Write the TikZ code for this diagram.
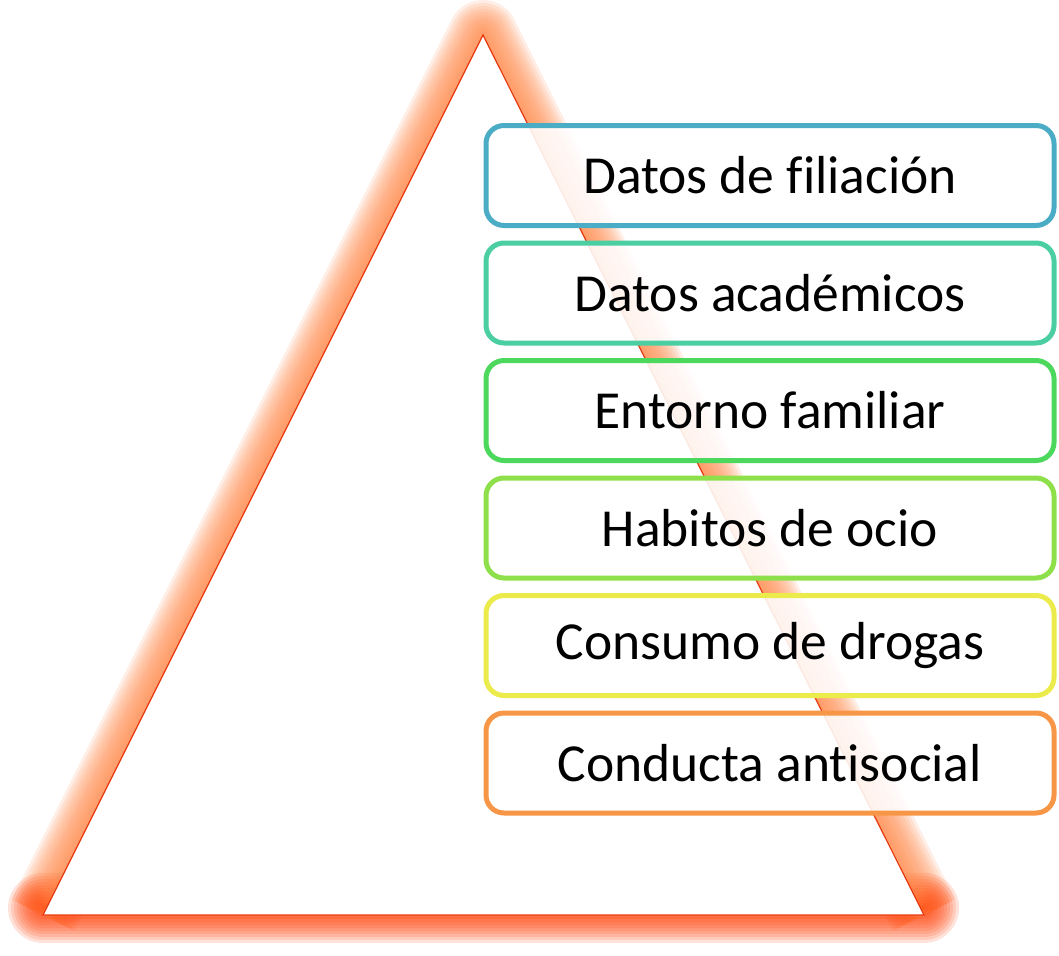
\documentclass[tikz,border=0pt]{standalone}
\usepackage{fontspec}
\setmainfont[Ligatures=NoCommon]{Carlito}
\usetikzlibrary{positioning}
\definecolor{glow}{HTML}{FF8A4C}
\definecolor{glowred}{HTML}{FF3A00}
\definecolor{edge}{HTML}{E83A10}
\definecolor{cfil}{HTML}{4BACC6}
\definecolor{caca}{HTML}{4BCFA2}
\definecolor{cfam}{HTML}{4BD85C}
\definecolor{cocio}{HTML}{8EE04B}
\definecolor{cdrog}{HTML}{EBEB4B}
\definecolor{canti}{HTML}{F79646}
\begin{document}
\begin{tikzpicture}[x=1pt,y=-1pt,node distance=12.5pt]
\tikzstyle{item}=[draw,line width=5pt,rounded corners=18pt,fill=white,fill opacity=0.88,text opacity=1,
  minimum width=568pt,minimum height=100pt,font=\fontsize{53.5}{62}\selectfont]
\useasboundingbox (0,0) rectangle (1059,955);
\coordinate (top) at (483,35);
\coordinate (bl) at (43,915);
\coordinate (br) at (924,915);
% glow round the pyramid
\foreach \w in {70,64,...,4} {
  \draw[glow,line width=\w pt,line join=round,opacity=0.14] (bl) -- (top) -- (br);
  \draw[glowred,line width=\w pt,line cap=round,opacity=0.14] ([yshift=7pt]bl) -- ([yshift=7pt]br);
}
\fill[white] (top) -- (bl) -- (br) -- cycle;
\draw[edge,line width=1.2pt,line join=miter] (top) -- (bl) -- (br) -- cycle;
% levels
\node[item,draw=cfil] (fil) at (770,175.5) {Datos de filiación};
\node[item,draw=caca,below=of fil] (aca) {Datos académicos};
\node[item,draw=cfam,below=of aca] (fam) {Entorno familiar};
\node[item,draw=cocio,below=of fam] (ocio) {Habitos de ocio};
\node[item,draw=cdrog,below=of ocio] (drog) {Consumo de drogas};
\node[item,draw=canti,below=of drog] (anti) {Conducta antisocial};
\end{tikzpicture}
\end{document}
